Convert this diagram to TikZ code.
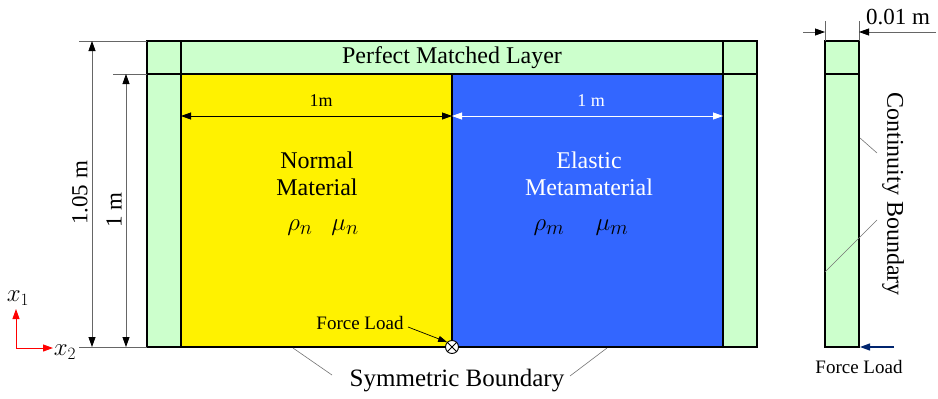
\documentclass[tikz,border=0pt]{standalone}
\usepackage{fontspec}
\setmainfont{Liberation Serif}
\usepackage{amsmath}
\usetikzlibrary{arrows.meta, positioning, calc}
\definecolor{pmlgreen}{RGB}{204,255,204}
\definecolor{metablue}{RGB}{51,102,255}
\definecolor{loadblue}{RGB}{0,36,110}

\begin{document}
\begin{tikzpicture}[x=1pt, y=-1pt,
        box/.style={draw=black, line width=1.3pt},
        dimline/.style={draw=black!60, line width=0.8pt},
        dimarrow/.style={dimline, {Triangle[length=10pt,width=7pt,black]}-{Triangle[length=10pt,width=7pt,black]}},
        txt/.style={font=\fontsize{24}{27}\selectfont, inner sep=0pt, align=center},
        symtxt/.style={font=\fontsize{29}{32}\selectfont, inner sep=0pt},
        dimtxt/.style={font=\fontsize{18}{21}\selectfont, inner sep=0pt},
        sidetxt/.style={font=\fontsize{23}{26}\selectfont, inner sep=0pt},
        loadtxt/.style={font=\fontsize{19}{22}\selectfont, inner sep=0pt},
        leader/.style={draw=black!55, line width=0.6pt}
      ]
      \useasboundingbox (0,0) rectangle (938,399);
      \coordinate (P1) at (147,41);
      \coordinate (P2) at (757,347);
      \coordinate (N1) at (181,74);
      \coordinate (N2) at (452,347);
      \coordinate (M1) at (452,74);
      \coordinate (M2) at (723,347);
      \fill[pmlgreen] (P1) rectangle (P2);
      \fill[yellow] (N1) rectangle (N2);
      \fill[metablue] (M1) rectangle (M2);
      \draw[box] (P1) rectangle (P2);
      \draw[box] (181,41) -- (181,347);
      \draw[box] (723,41) -- (723,347);
      \draw[box] (147,74) -- (757,74);
      \draw[box] (M1) -- (N2);
      \node[txt] (pml) at (452,58) {Perfect Matched Layer};
      \node[txt] (normal) at (317,174) {Normal\\Material};
      \node[txt, text=white] (meta) at (589,174) {Elastic\\Metamaterial};
      \node[symtxt] (rhon) at (300,228) {$\rho_n$};
      \node[symtxt] (mun) at (345,228) {$\mu_n$};
      \node[symtxt] (rhom) at (549,228) {$\rho_m$};
      \node[symtxt] (mum) at (612,228) {$\mu_m$};
      % widths of the two halves
      \coordinate (wa) at (181,116);
      \coordinate (wb) at (452,116);
      \coordinate (wc) at (723,116);
      \draw[dimarrow, draw=black] (wa) -- (wb);
      \draw[dimline, draw=white, {Triangle[length=10pt,width=7pt,white]}-{Triangle[length=10pt,width=7pt,white]}] (wb) -- (wc);
      \node[dimtxt] (wn) at (321,101) {1m};
      \node[dimtxt, text=white] (wm) at (591,101) {1 m};
      % heights
      \coordinate (ha) at (92,41);
      \coordinate (hb) at (92,347);
      \coordinate (hc) at (126,74);
      \coordinate (hd) at (126,347);
      \draw[dimline] (79,41) -- (P1);
      \draw[dimline] (113,74) -- (147,74);
      \draw[dimline] (79,347) -- (147,347);
      \draw[dimarrow] (ha) -- (hb);
      \draw[dimarrow] (hc) -- (hd);
      \node[sidetxt, rotate=90] (hl) at (80,193) {1.05 m};
      \node[sidetxt, rotate=90] (hm) at (114,210) {1 m};
      % axes
      \coordinate (O) at (16,348);
      \coordinate (xa) at (16,309);
      \coordinate (xb) at (53,348);
      \draw[red, line width=1pt, -{Triangle[length=10pt,width=7pt]}] (O) -- (xa);
      \draw[red, line width=1pt, -{Triangle[length=10pt,width=7pt]}] (O) -- (xb);
      \node[sidetxt] (x1) at (18,298) {$x_1$};
      \node[sidetxt] (x2) at (65,352) {$x_2$};
      % force load at the interface
      \node[circle, draw, fill=white, line width=0.9pt, minimum size=13pt, inner sep=0pt] (src) at (N2) {};
      \draw[line width=0.9pt] (src.north west) -- (src.south east) (src.north east) -- (src.south west);
      \node[loadtxt] (load) at (360,323) {Force Load};
      \draw[black, line width=0.7pt, -{Triangle[length=9pt,width=6pt]}] (408,327) -- (src.north west);
      \node[txt, font=\fontsize{25}{28}\selectfont] (sym) at (457,381) {Symmetric Boundary};
      \draw[leader] (293,348) -- (332,375);
      \draw[leader] (607,348) -- (570,376);
      % detail of the PML strip
      \coordinate (S1) at (825,41);
      \coordinate (S2) at (859,347);
      \coordinate (fb) at (860,347);
      \fill[pmlgreen] (S1) rectangle (S2);
      \draw[box] (S1) rectangle (S2);
      \draw[box] (825,74) -- (859,74);
      \draw[dimline] (825,21) -- (S1);
      \draw[dimline] (859,21) -- (859,41);
      \draw[dimline, -{Triangle[length=10pt,width=7pt,black]}] (803,32) -- (825,32);
      \draw[dimline, -{Triangle[length=10pt,width=7pt,black]}] (936,32) -- (859,32);
      \node[sidetxt] (thick) at (898,17) {0.01 m};
      \node[txt, rotate=-90] (cont) at (893,194) {Continuity Boundary};
      \draw[leader] (860,138) -- (877,153);
      \draw[leader] (877,220) -- (825,272);
      \coordinate (fa) at (894,347);
      \draw[draw=loadblue, line width=1.2pt, -{Triangle[length=10pt,width=7pt,fill=loadblue]}] (fa) -- (fb);
      \node[loadtxt] (load2) at (859,367) {Force Load};
\end{tikzpicture}
\end{document}
